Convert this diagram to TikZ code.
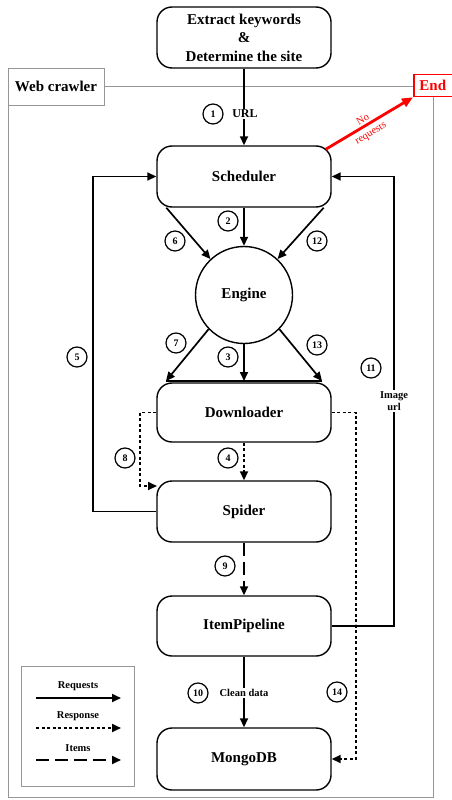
\documentclass[tikz,border=0pt]{standalone}
\usepackage{fontspec}
\setmainfont{Liberation Serif}
\usetikzlibrary{arrows.meta,calc}
\definecolor{framegray}{RGB}{150,150,150}
\tikzset{
  box/.style={draw, line width=1.4pt, rounded corners=15pt, minimum width=174pt, font=\fontsize{15}{17}\selectfont\bfseries, align=center, inner sep=2pt},
  num/.style={circle, draw, line width=1.2pt, inner sep=0pt, minimum size=20pt, font=\fontsize{10}{11}\selectfont\bfseries, fill=white},
  lbl/.style={fill=white, inner sep=1.5pt, font=\fontsize{11}{12}\selectfont\bfseries, align=center},
  req/.style={line width=1.7pt, -{Triangle[length=9pt,width=8pt]}},
  resp/.style={line width=1.7pt, dash pattern=on 3pt off 2.5pt, -{Triangle[length=9pt,width=8pt]}},
  itm/.style={line width=1.7pt, dash pattern=on 13pt off 6pt, -{Triangle[length=9pt,width=8pt]}},
  gframe/.style={draw=framegray, line width=0.9pt},
}
\begin{document}
\begin{tikzpicture}[x=1pt,y=-1pt]
\useasboundingbox (0,0) rectangle (451,800);
% frame
\draw[gframe] (8,86) rectangle (433,797);
\node[gframe, fill=white, minimum width=96pt, minimum height=37pt, font=\fontsize{15}{17}\selectfont\bfseries] (wc) at (56,86.5) {Web crawler};
\node[draw=red, line width=1.5pt, fill=white, text=red, anchor=west, minimum width=44pt, minimum height=22pt, font=\fontsize{15}{17}\selectfont\bfseries, inner sep=1pt] (end) at (413,85.5) {\hspace*{-6pt}End};
% boxes
\node[box, minimum height=61pt, font=\fontsize{15}{18.5}\selectfont\bfseries] (top) at (244,37.5) {Extract keywords\\\&\\Determine the site};
\node[box, minimum height=61pt] (sch) at (244,176.5) {Scheduler};
\node[circle, draw, line width=1.4pt, minimum size=97pt, inner sep=0pt, font=\fontsize{15}{17}\selectfont\bfseries] (eng) at (244,295) {Engine};
\node[box, minimum height=59pt] (dl) at (244,412.5) {Downloader};
\node[box, minimum height=61pt] (sp) at (244,511.5) {Spider};
\node[box, minimum height=60pt] (ip) at (244,626) {ItemPipeline};
\node[box, minimum height=62pt] (mg) at (244,759) {MongoDB};
% helper coordinates
\coordinate (dlL) at (166,381);
\coordinate (dlM) at (244,381);
\coordinate (dlR) at (322,381);
\coordinate (spC) at (157,486);
% 1
\draw[req] (top.south) -- (sch.north);
\node[lbl, font=\fontsize{12}{13}\selectfont\bfseries] (urllbl) at (245,114) {URL};
\node[num] (n1) at (213,114) {1};
% red
\draw[red, line width=2.8pt, -{Triangle[length=11pt,width=9pt]}] ($(sch.north east)+(-6,4)$) -- (end.south west);
\node[text=red, rotate=31, align=center, font=\fontsize{10.5}{15}\selectfont] (noreq) at (367,127) {No\\requests};
% 2, 6, 12
\draw[req] (sch.south) -- (eng.north);
\draw[req] ($(sch.south west)+(10,0)$) -- (eng.133);
\draw[req] ($(sch.south east)+(-8,0)$) -- (eng.47);
\node[num] (n2) at (228,221) {2};
\node[num] (n6) at (175,241) {6};
\node[num] (n12) at (317,241) {12};
% 3, 7, 13
\draw[line width=1.7pt] (dlL) -- (dlR);
\draw[req] (eng.south) -- (dlM);
\draw[req] (eng.224) -- (dlL);
\draw[req] (eng.-44) -- (dlR);
\node[num] (n7) at (176,343) {7};
\node[num] (n3) at (228,357) {3};
\node[num] (n13) at (317,345) {13};
% 5
\draw[req] (sp.west) -- (93,511.5) |- (sch.west);
\node[num] (n5) at (77,357) {5};
% 11
\draw[req] (ip.east) -- (394,626) |- (sch.east);
\node[num] (n11) at (371,368) {11};
\node[lbl, font=\fontsize{10.5}{12.5}\selectfont\bfseries, inner sep=1pt] (imgurl) at (394,401) {Image\\url};
% 8, 4
\draw[resp] (dl.west) -- (140,412.5) |- (spC);
\node[num] (n8) at (125,458) {8};
\draw[resp] (dl.south) -- (sp.north);
\node[num] (n4) at (228,458) {4};
% 9
\draw[itm] (sp.south) -- (ip.north);
\node[num] (n9) at (225,566) {9};
% 14
\draw[resp] (dl.east) -- (356,412.5) |- (mg.east);
\fill (356,626) circle (1.6pt);
\node[num] (n14) at (337,692) {14};
% 10
\draw[req] (ip.south) -- (mg.north);
\node[num] (n10) at (198,693) {10};
\node[lbl, font=\fontsize{10.5}{11.5}\selectfont\bfseries] (clean) at (244,693) {Clean data};
% legend
\draw[gframe] (21,666) rectangle (134,786);
\node[font=\fontsize{10.5}{11.5}\selectfont\bfseries] (lg1) at (78,686) {Requests};
\coordinate (a1) at (36,698); \coordinate (b1) at (121,698);
\draw[req] (a1) -- (b1);
\node[font=\fontsize{10.5}{11.5}\selectfont\bfseries] (lg2) at (78,716) {Response};
\coordinate (a2) at (36,728); \coordinate (b2) at (121,728);
\draw[resp] (a2) -- (b2);
\node[font=\fontsize{10.5}{11.5}\selectfont\bfseries] (lg3) at (78,748) {Items};
\coordinate (a3) at (36,760); \coordinate (b3) at (121,760);
\draw[itm] (a3) -- (b3);
\end{tikzpicture}
\end{document}
